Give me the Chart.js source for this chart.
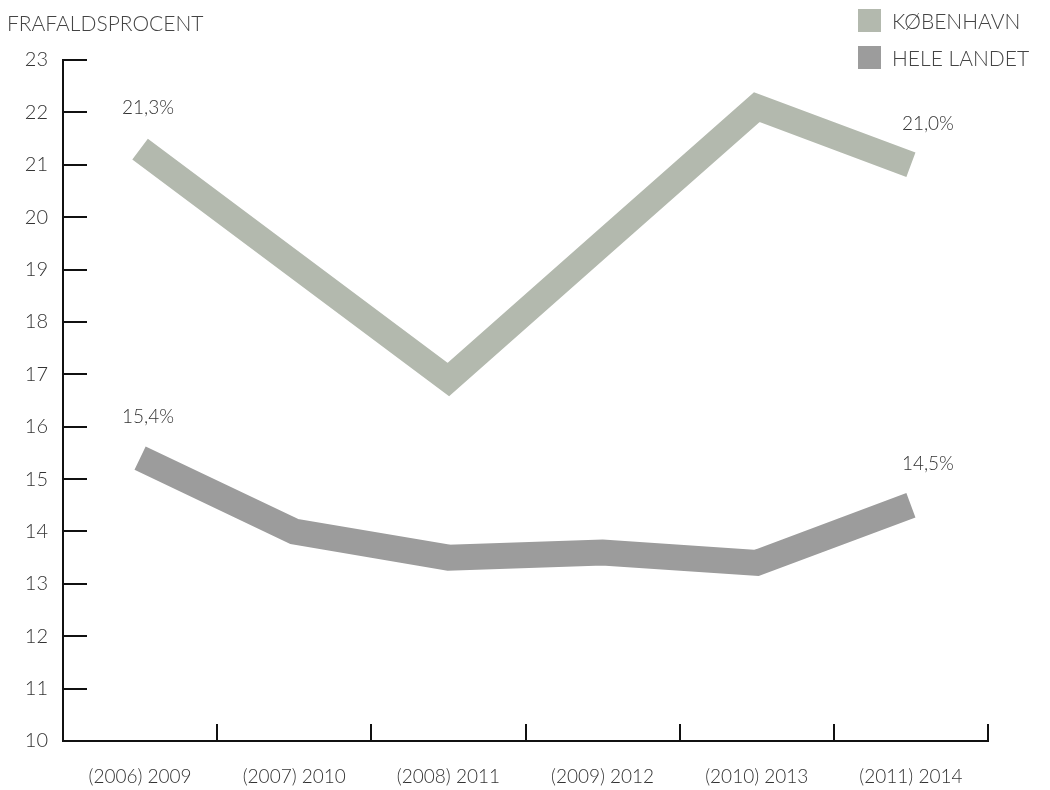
<!DOCTYPE html>
<html>
<head>
<meta charset="utf-8">
<script src="https://cdn.jsdelivr.net/npm/chart.js@4/dist/chart.umd.min.js"></script>
<style>
	html, body { margin: 0; padding: 0; background: #fff; }
	#wrap { position: relative; width: 1050px; height: 790px; font-family: Lato, "Open Sans", sans-serif; font-weight: 300; }
	#ytitle { position: absolute; left: 7px; top: 10px; font-size: 21px; color: #444; }
	#legend { position: absolute; left: 858px; top: 9px; }
	.item { height: 23px; margin-bottom: 14px; display: flex; align-items: center; font-size: 21px; color: #444; }
	.box { width: 23px; height: 23px; margin-right: 11px; }
	canvas { position: absolute; left: 0; top: 0; }
</style>
</head>
<body>
<div id="wrap">
	<canvas id="drop-chart" width="1050" height="790"></canvas>
	<div id="ytitle">FRAFALDSPROCENT</div>
	<div id="legend"></div>
</div>
<script>
var categories = ['(2006) 2009', '(2007) 2010', '(2008) 2011', '(2009) 2012', '(2010) 2013', '(2011) 2014'];
var kbhValues = [21.3, 19.1, 16.9, 19.5, 22.1, 21.0];
var landValues = [15.4, 14.0, 13.5, 13.6, 13.4, 14.5];
var seriesNames = ['KØBENHAVN', 'HELE LANDET'];
var seriesColors = ['#b3b9ae', '#9c9c9c'];
var yTicks = [10, 11, 12, 13, 14, 15, 16, 17, 18, 19, 20, 21, 22, 23];
var labelIndexes = [0, 5]; // only first and last points get a value label

var fontFamily = 'Lato, "Open Sans", sans-serif';
var textColor = '#333';

function fmt(v) {
	return v.toFixed(1).replace('.', ',') + '%';
}

// short tick marks pointing into the plot, plus the value labels
var marksPlugin = {
	id: 'marks',
	afterDraw: function (chart) {
		var ctx = chart.ctx;
		var x = chart.scales.x, y = chart.scales.y;
		var area = chart.chartArea;
		ctx.save();
		ctx.strokeStyle = '#111';
		ctx.lineWidth = 2;
		ctx.beginPath();
		yTicks.forEach(function (v) {
			var py = Math.round(y.getPixelForValue(v));
			ctx.moveTo(area.left, py);
			ctx.lineTo(area.left + 24, py);
		});
		var half = (x.getPixelForValue(1) - x.getPixelForValue(0)) / 2;
		categories.forEach(function (c, i) {
			var px = Math.round(x.getPixelForValue(i) + half);
			ctx.moveTo(px, area.bottom);
			ctx.lineTo(px, area.bottom - 17);
		});
		ctx.stroke();

		ctx.fillStyle = textColor;
		ctx.font = '300 19px ' + fontFamily;
		ctx.textAlign = 'center';
		ctx.textBaseline = 'middle';
		chart.data.datasets.forEach(function (ds, di) {
			var meta = chart.getDatasetMeta(di);
			labelIndexes.forEach(function (i) {
				var pt = meta.data[i];
				var dx = i === 0 ? 8 : 17;
				ctx.fillText(fmt(ds.data[i]), pt.x + dx, pt.y - 41);
			});
		});
		ctx.restore();
	}
};

new Chart('drop-chart', {
	type: 'line',
	data: {
		labels: categories,
		datasets: [
			{ label: seriesNames[0], data: kbhValues, borderColor: seriesColors[0], backgroundColor: seriesColors[0] },
			{ label: seriesNames[1], data: landValues, borderColor: seriesColors[1], backgroundColor: seriesColors[1] }
		]
	},
	options: {
		responsive: false,
		animation: false,
		devicePixelRatio: 1,
		layout: { padding: { top: 60, right: 62, left: 0, bottom: 0 } },
		elements: {
			line: { borderWidth: 26, tension: 0, borderJoinStyle: 'miter', borderCapStyle: 'butt', fill: false },
			point: { radius: 0, hoverRadius: 0 }
		},
		plugins: {
			legend: { display: false },
			tooltip: { enabled: false }
		},
		scales: {
			x: {
				offset: true,
				grid: { display: false, drawTicks: false },
				border: { display: true, color: '#111', width: 2 },
				ticks: { color: textColor, font: { family: fontFamily, size: 19, weight: '300' }, padding: 24, maxRotation: 0 },
				afterFit: function (s) { s.height = 49; }
			},
			y: {
				min: 10,
				max: 23,
				grid: { display: false, drawTicks: false },
				border: { display: true, color: '#111', width: 2 },
				afterBuildTicks: function (s) { s.ticks = yTicks.map(function (v) { return { value: v }; }); },
				ticks: { color: textColor, font: { family: fontFamily, size: 20, weight: '300' }, padding: 15 },
				afterFit: function (s) { s.width = 63; }
			}
		}
	},
	plugins: [marksPlugin]
});

var legend = document.getElementById('legend');
seriesNames.forEach(function (name, i) {
	var item = document.createElement('div');
	item.className = 'item';
	item.innerHTML = '<div class="box" style="background:' + seriesColors[i] + '"></div><span>' + name + '</span>';
	legend.appendChild(item);
});
</script>
</body>
</html>
